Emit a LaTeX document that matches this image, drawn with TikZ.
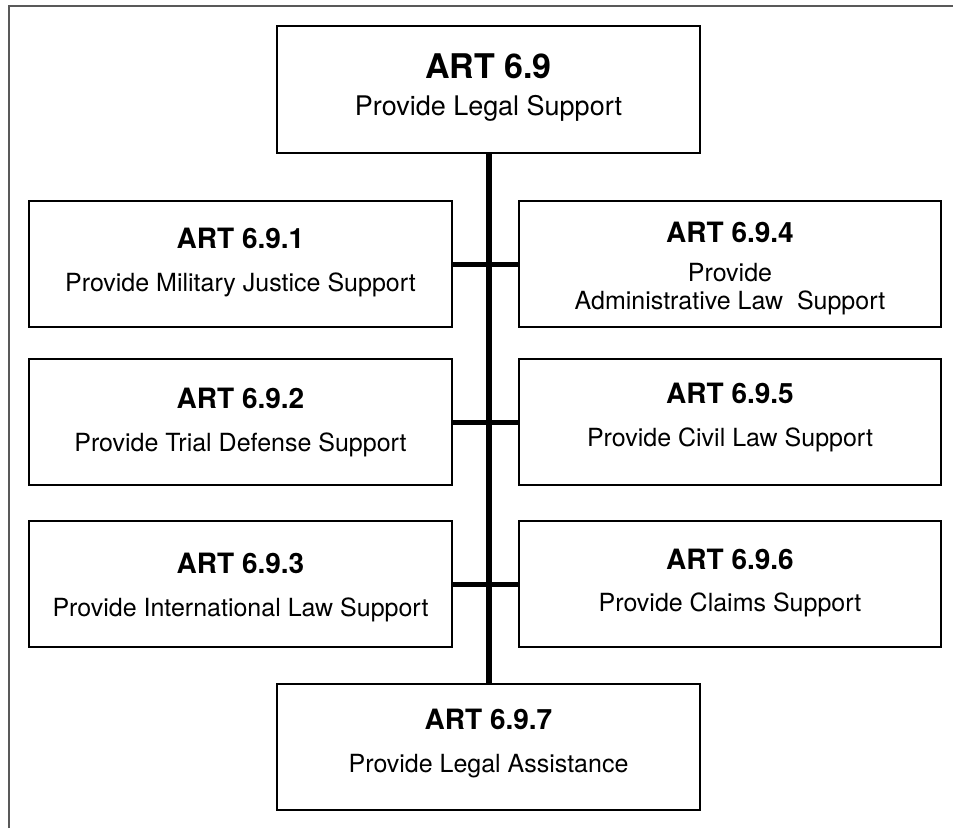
\documentclass[tikz,border=0pt]{standalone}
\usepackage{fontspec}
\setmainfont{TeX Gyre Heros}
\begin{document}
\begin{tikzpicture}[x=1pt,y=-1pt,
  box/.style={draw=black,line width=2.8pt,minimum width=423pt,minimum height=126pt,inner sep=0pt,anchor=center},
  ttl/.style={font=\fontsize{28}{30}\selectfont\bfseries,anchor=base,inner sep=0pt},
  sub/.style={font=\fontsize{25}{28}\selectfont,anchor=base,inner sep=0pt},
  bigttl/.style={font=\fontsize{34}{36}\selectfont\bfseries,anchor=base,inner sep=0pt},
  bigsub/.style={font=\fontsize{27}{30}\selectfont,anchor=base,inner sep=0pt},
  trunk/.style={line width=6pt},
  branch/.style={line width=5pt},
  framel/.style={draw=black!65,line width=2pt}]
\useasboundingbox (0,0) rectangle (953,828);
% frame
\coordinate (fa) at (9,828);
\coordinate (fb) at (9,6);
\coordinate (fc) at (953,6);
\draw[framel] (fa) -- (fb) -- (fc);
% boxes
\node[box,minimum height=127pt] (top) at (488.5,89.5) {};
\node[box] (b1) at (240.5,264) {};
\node[box,minimum width=422pt] (b4) at (730,264) {};
\node[box] (b2) at (240.5,422) {};
\node[box,minimum width=422pt] (b5) at (730,422) {};
\node[box] (b3) at (240.5,584) {};
\node[box,minimum width=422pt] (b6) at (730,584) {};
\node[box] (b7) at (488.5,747) {};
% connectors
\draw[trunk] (top.south) -- (b7.north);
\draw[branch] (b1.east) -- (b4.west);
\draw[branch] (b2.east) -- (b5.west);
\draw[branch] (b3.east) -- (b6.west);
% texts
\node[bigttl] (t0) at (488.5,78) {ART 6.9};
\node[bigsub] (s0) at (488.5,115) {Provide Legal Support};
\node[ttl] (t1) at (240.5,248) {ART 6.9.1};
\node[sub] (s1) at (240.5,291) {Provide Military Justice Support};
\node[ttl] (t4) at (730,242) {ART 6.9.4};
\node[sub] (s4a) at (730,281) {Provide};
\node[sub] (s4b) at (730,309) {Administrative Law\ \ Support};
\node[ttl] (t2) at (240.5,408) {ART 6.9.2};
\node[sub] (s2) at (240.5,451) {Provide Trial Defense Support};
\node[ttl] (t5) at (730,403) {ART 6.9.5};
\node[sub] (s5) at (730,446) {Provide Civil Law Support};
\node[ttl] (t3) at (240.5,573) {ART 6.9.3};
\node[sub] (s3) at (240.5,616) {Provide International Law Support};
\node[ttl] (t6) at (730,569) {ART 6.9.6};
\node[sub] (s6) at (730,611) {Provide Claims Support};
\node[ttl] (t7) at (488.5,729) {ART 6.9.7};
\node[sub] (s7) at (488.5,772) {Provide Legal Assistance};
\end{tikzpicture}
\end{document}
